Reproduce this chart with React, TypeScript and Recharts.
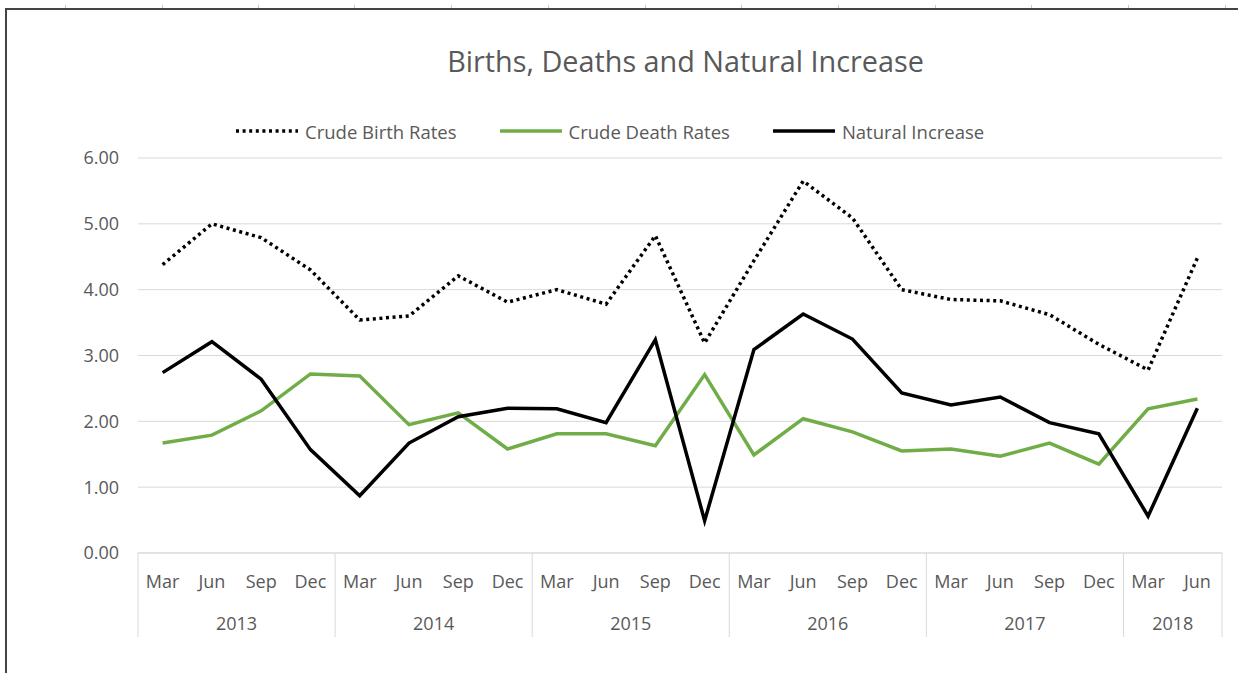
import { LineChart, Line, XAxis, YAxis, CartesianGrid } from 'recharts'

const MONTHS = ['Mar', 'Jun', 'Sep', 'Dec']
const YEARS = ['2013', '2014', '2015', '2016', '2017', '2018']
const PERIODS = YEARS.flatMap((y) => MONTHS.map((m) => ({ year: y, month: m }))).slice(0, 22)

const birthRates = [
  4.38, 5.0, 4.79, 4.3, 3.54, 3.6, 4.21, 3.81, 4.0, 3.78, 4.82, 3.19,
  4.44, 5.65, 5.09, 4.0, 3.85, 3.83, 3.62, 3.17, 2.78, 4.48,
]
const deathRates = [
  1.67, 1.79, 2.16, 2.72, 2.69, 1.95, 2.13, 1.58, 1.81, 1.81, 1.63, 2.71,
  1.49, 2.04, 1.84, 1.55, 1.58, 1.47, 1.67, 1.35, 2.19, 2.34,
]
const naturalIncrease = [
  2.74, 3.21, 2.64, 1.57, 0.87, 1.67, 2.07, 2.2, 2.19, 1.98, 3.24, 0.49,
  3.09, 3.63, 3.25, 2.43, 2.25, 2.37, 1.98, 1.81, 0.56, 2.2,
]
const yTicks = [0, 1, 2, 3, 4, 5, 6]

const data = PERIODS.map((p, i) => ({
  key: `${p.year}-${p.month}`,
  month: p.month,
  year: p.year,
  birth: birthRates[i],
  death: deathRates[i],
  natural: naturalIncrease[i],
}))

const SERIES = [
  { key: 'birth', name: 'Crude Birth Rates', color: '#000000', dash: '3 3.6' },
  { key: 'death', name: 'Crude Death Rates', color: '#70AD47', dash: undefined },
  { key: 'natural', name: 'Natural Increase', color: '#000000', dash: undefined },
]

const W = 1238
const H = 673
const MARGIN = { top: 158, right: 16, bottom: 36, left: 0 }
const Y_AXIS_W = 138
const PLOT_W = W - MARGIN.left - MARGIN.right - Y_AXIS_W
const BAND = PLOT_W / data.length
const TEXT = '#595959'
const GRID = '#D9D9D9'
const FONT = '"Open Sans", sans-serif'
const FS = 18

// little column marks of the sheet above the frame
const sheetMarks = [65, 162, 258, 354, 451, 548, 645, 741, 838, 935, 1031, 1128, 1225]

function CategoryTick(props: any) {
  const { x, y, payload } = props
  const i = payload.index
  const row = data[i]
  const groupStart = i === 0 || data[i - 1].year !== row.year
  const isLast = i === data.length - 1
  let groupLen = 0
  if (groupStart) {
    for (let j = i; j < data.length && data[j].year === row.year; j++) groupLen++
  }
  const left = x - BAND / 2
  return (
    <g>
      <text x={x} y={y + 35} textAnchor="middle" fill={TEXT} fontSize={FS} fontFamily={FONT}>
        {row.month}
      </text>
      {groupStart && (
        <>
          <line x1={left} x2={left} y1={y} y2={y + 84} stroke={GRID} strokeWidth={1} />
          <text
            x={left + (groupLen * BAND) / 2}
            y={y + 77}
            textAnchor="middle"
            fill={TEXT}
            fontSize={FS}
            fontFamily={FONT}
          >
            {row.year}
          </text>
        </>
      )}
      {isLast && (
        <line x1={x + BAND / 2} x2={x + BAND / 2} y1={y} y2={y + 84} stroke={GRID} strokeWidth={1} />
      )}
    </g>
  )
}

function LegendRow() {
  return (
    <div
      style={{
        position: 'absolute',
        top: 118,
        left: 236,
        display: 'flex',
        alignItems: 'center',
        fontFamily: FONT,
        fontSize: 18.5,
        color: TEXT,
        whiteSpace: 'nowrap',
      }}
    >
      {SERIES.map((s, i) => (
        <div key={s.key} style={{ display: 'flex', alignItems: 'center', marginRight: i < 2 ? 43 : 0 }}>
          <svg width={62} height={26} style={{ marginRight: 7 }}>
            <line
              x1={0}
              x2={62}
              y1={13}
              y2={13}
              stroke={s.color}
              strokeWidth={3.5}
              strokeDasharray={s.dash}
            />
          </svg>
          <span>{s.name}</span>
        </div>
      ))}
    </div>
  )
}

export default function App() {
  return (
    <div style={{ position: 'relative', width: W, height: H, background: '#fff', overflow: 'hidden' }}>
      <style>{'body{margin:0}'}</style>
      {/* sheet frame */}
      {sheetMarks.map((mx) => (
        <div key={mx} style={{ position: 'absolute', left: mx, top: 5, width: 1, height: 4, background: '#c8c8c8' }} />
      ))}
      <div style={{ position: 'absolute', left: 5, top: 8, right: 0, height: 2, background: '#444' }} />
      <div style={{ position: 'absolute', left: 5, top: 8, bottom: 0, width: 2, background: '#444' }} />
      <div
        style={{
          position: 'absolute',
          top: 41,
          left: 0,
          width: 1371,
          textAlign: 'center',
          fontFamily: FONT,
          fontSize: 28.8,
          color: TEXT,
          whiteSpace: 'nowrap',
        }}
      >
        Births, Deaths and Natural Increase
      </div>
      <LegendRow />
      <LineChart width={W} height={H} data={data} margin={MARGIN} style={{ position: 'absolute', left: 0, top: 0 }}>
        <CartesianGrid vertical={false} stroke={GRID} />
        <XAxis
          dataKey="key"
          interval={0}
          height={84}
          padding={{ left: BAND / 2, right: BAND / 2 }}
          tickLine={false}
          tickSize={0}
          tickMargin={0}
          stroke={GRID}
          tick={<CategoryTick />}
        />
        <YAxis
          width={Y_AXIS_W}
          domain={[0, 6]}
          ticks={yTicks}
          tickFormatter={(v: number) => v.toFixed(2)}
          axisLine={false}
          tickLine={false}
          tickSize={0}
          tickMargin={19}
          tick={{ fill: TEXT, fontSize: FS, fontFamily: FONT }}
        />
        {SERIES.map((s) => (
          <Line
            key={s.key}
            dataKey={s.key}
            name={s.name}
            type="linear"
            stroke={s.color}
            strokeWidth={3.5}
            strokeDasharray={s.dash}
            dot={false}
            isAnimationActive={false}
          />
        ))}
      </LineChart>
    </div>
  )
}
